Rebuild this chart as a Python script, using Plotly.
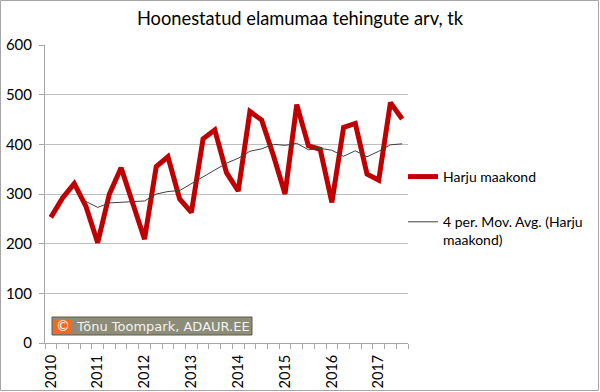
import plotly.graph_objects as go

title = "Hoonestatud elamumaa tehingute arv, tk"
years = ["2010", "2011", "2012", "2013", "2014", "2015", "2016", "2017"]
harju = [253, 292, 321, 275, 202, 300, 353, 281,
         209, 355, 375, 290, 263, 411, 429, 343,
         306, 466, 449, 378, 300, 480, 397, 390,
         283, 434, 442, 340, 328, 484, 451]
mov_avg = [None, None, None, 285, 273, 282, 283, 284,
           286, 300, 305, 307, 321, 335, 349, 362,
           372, 386, 391, 400, 398, 402, 389, 392,
           388, 376, 387, 375, 386, 399, 401]
name_main = "Harju maakond"
name_ma = "4 per. Mov. Avg. (Harju<br>maakond)"

W, H = 600, 392
L, R, T, B = 45, 192, 45, 49
pw, ph = W - L - R, H - T - B

def px(x):
    return (x - L) / pw

def py(y):
    return (H - B - y) / ph

xs = list(range(len(harju)))
FONT = "Lato"

fig = go.Figure()
fig.add_trace(go.Scatter(x=xs, y=harju, mode="lines", name=name_main,
                         line=dict(color="#C00000", width=5), legendgroup="a"))
fig.add_trace(go.Scatter(x=xs, y=mov_avg, mode="lines", name=name_ma,
                         line=dict(color="#404040", width=1), legendgroup="b"))

fig.update_layout(
    width=W, height=H,
    margin=dict(l=L, r=R, t=T, b=B, autoexpand=False),
    paper_bgcolor="white", plot_bgcolor="white",
    font=dict(family=FONT, color="#000000", size=14),
    title=dict(text=title, x=0.5, xref="container", xanchor="center",
               y=1 - 19 / H, yref="container",
               yanchor="middle", font=dict(size=18.3, family=FONT)),
    showlegend=True,
    legend=dict(x=px(403), y=py(161), xanchor="left", yanchor="top",
                font=dict(size=14, family=FONT), tracegroupgap=24,
                valign="top",
                bgcolor="rgba(0,0,0,0)", itemwidth=30),
    xaxis=dict(range=[-0.5, len(harju) - 0.5], tickmode="array",
               tickvals=[i * 4 for i in range(len(years))], ticktext=years,
               tickangle=-90, ticks="", showgrid=False, zeroline=False,
               showline=True, linecolor="#A6A6A6", linewidth=1,
               ticklabelstandoff=5, automargin=False,
               tickfont=dict(size=14.5, family=FONT),
               minor=dict(ticks="outside", tick0=-0.5, dtick=1, ticklen=5,
                          tickcolor="#A6A6A6", showgrid=False)),
    yaxis=dict(range=[0, 600], tickvals=[0, 100, 200, 300, 400, 500, 600],
               showgrid=True, gridcolor="#BFBFBF", gridwidth=1, zeroline=False,
               showline=True, linecolor="#A6A6A6", linewidth=1,
               ticks="outside", ticklen=5, tickcolor="#A6A6A6",
               ticklabelstandoff=4, automargin=False,
               tickfont=dict(size=15, family=FONT)),
    shapes=[
        dict(type="rect", xref="paper", yref="paper",
             x0=px(0.5), x1=px(598.5), y0=py(0.5), y1=py(390.5),
             line=dict(color="#A6A6A6", width=1), fillcolor="rgba(0,0,0,0)",
             layer="below"),
        dict(type="rect", xref="paper", yref="paper",
             x0=px(52), x1=px(252), y0=py(335), y1=py(317),
             line=dict(color="#5A5A4A", width=1), fillcolor="#8C8C78"),
        dict(type="rect", xref="paper", yref="paper",
             x0=px(54), x1=px(72), y0=py(333), y1=py(319),
             line=dict(width=0), fillcolor="#F26B1D"),
    ],
    annotations=[
        dict(text="©", xref="paper", yref="paper", x=px(63), y=py(326),
             xanchor="center", yanchor="middle", showarrow=False,
             font=dict(size=14, color="white", family="DejaVu Sans")),
        dict(text="Tõnu Toompark, ADAUR.EE", xref="paper", yref="paper",
             x=px(74), y=py(326), xanchor="left", yanchor="middle",
             showarrow=False,
             font=dict(size=13, color="#F2F2F2", family="DejaVu Sans")),
    ],
)

fig.write_html(
    "out.html",
    post_script="document.documentElement.style.overflow='hidden';"
                "document.body.style.overflow='hidden';"
                "document.body.style.margin='0';",
)
